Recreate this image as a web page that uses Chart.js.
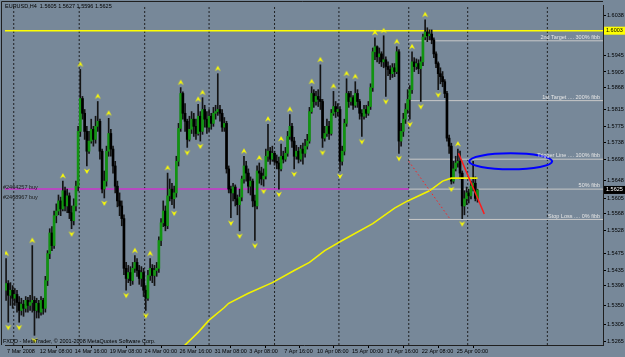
<!DOCTYPE html>
<html>
<head>
<meta charset="utf-8">
<script src="https://cdn.jsdelivr.net/npm/chart.js@4.4.1/dist/chart.umd.min.js"></script>
<style>
  html, body { margin: 0; padding: 0; background: #778899; }
  canvas { display: block; }
</style>
</head>
<body>
<canvas id="Grafico" width="625" height="357"></canvas>
<script>
// EURUSD H4, one value per bar (open = previous close)
const titulo = 'EURUSD,H4  1.5605 1.5627 1.5596 1.5625';
const firstOpen = 1.5387;
const closes = [
  1.5403, 1.5375, 1.5387, 1.5368, 1.5377, 1.5358, 1.5339, 1.5354, 1.5344, 1.5363,
  1.5351, 1.5358, 1.5363, 1.5339, 1.5356, 1.5335, 1.5363, 1.5344, 1.5410, 1.5474,
  1.5523, 1.5493, 1.5564, 1.5575, 1.5599, 1.5580, 1.5623, 1.5587, 1.5611, 1.5571,
  1.5552, 1.5587, 1.5634, 1.5764, 1.5842, 1.5807, 1.5764, 1.5717, 1.5741, 1.5769,
  1.5745, 1.5776, 1.5788, 1.5717, 1.5627, 1.5646, 1.5717, 1.5759, 1.5722, 1.5682,
  1.5634, 1.5599, 1.5587, 1.5557, 1.5439, 1.5415, 1.5429, 1.5410, 1.5439, 1.5453,
  1.5434, 1.5415, 1.5429, 1.5387, 1.5368, 1.5422, 1.5439, 1.5422, 1.5434, 1.5439,
  1.5505, 1.5547, 1.5575, 1.5540, 1.5611, 1.5627, 1.5604, 1.5618, 1.5693, 1.5771,
  1.5854, 1.5807, 1.5788, 1.5745, 1.5769, 1.5793, 1.5776, 1.5759, 1.5800, 1.5764,
  1.5816, 1.5793, 1.5774, 1.5800, 1.5783, 1.5807, 1.5811, 1.5816, 1.5807, 1.5774,
  1.5783, 1.5675, 1.5627, 1.5618, 1.5632, 1.5604, 1.5590, 1.5608, 1.5651, 1.5682,
  1.5665, 1.5634, 1.5646, 1.5599, 1.5587, 1.5670, 1.5665, 1.5651, 1.5658, 1.5705,
  1.5717, 1.5698, 1.5712, 1.5693, 1.5689, 1.5675, 1.5705, 1.5698, 1.5712, 1.5752,
  1.5776, 1.5741, 1.5705, 1.5717, 1.5698, 1.5722, 1.5712, 1.5729, 1.5741, 1.5811,
  1.5854, 1.5835, 1.5847, 1.5840, 1.5835, 1.5748, 1.5759, 1.5776, 1.5759, 1.5807,
  1.5823, 1.5811, 1.5816, 1.5693, 1.5717, 1.5783, 1.5854, 1.5835, 1.5844, 1.5826,
  1.5854, 1.5835, 1.5807, 1.5800, 1.5816, 1.5807, 1.5823, 1.5868, 1.5953, 1.5965,
  1.5941, 1.5948, 1.5929, 1.5934, 1.5918, 1.5911, 1.5901, 1.5915, 1.5906, 1.5953,
  1.5741, 1.5764, 1.5793, 1.5816, 1.5840, 1.5863, 1.5929, 1.5918, 1.5925, 1.5913,
  1.5929, 1.5988, 1.6000, 1.5991, 1.5995, 1.5981, 1.5948, 1.5925, 1.5901, 1.5894,
  1.5882, 1.5854, 1.5748, 1.5729, 1.5646, 1.5675, 1.5689, 1.5693, 1.5665, 1.5587,
  1.5604, 1.5618, 1.5611, 1.5634, 1.5641, 1.5605, 1.5625
];
const highs = [
  1.5462, 1.5410, 1.5405, 1.5398, 1.5391, 1.5387, 1.5372, 1.5368, 1.5363, 1.5372,
  1.5370, 1.5375, 1.5493, 1.5372, 1.5368, 1.5363, 1.5372, 1.5368, 1.5420, 1.5481,
  1.5533, 1.5538, 1.5575, 1.5592, 1.5613, 1.5608, 1.5646, 1.5632, 1.5627, 1.5618,
  1.5587, 1.5604, 1.5646, 1.5776, 1.5911, 1.5847, 1.5816, 1.5776, 1.5764, 1.5793,
  1.5776, 1.5800, 1.5835, 1.5793, 1.5722, 1.5670, 1.5729, 1.5795, 1.5769, 1.5729,
  1.5693, 1.5646, 1.5618, 1.5599, 1.5566, 1.5453, 1.5446, 1.5443, 1.5453, 1.5469,
  1.5462, 1.5446, 1.5443, 1.5439, 1.5398, 1.5434, 1.5462, 1.5448, 1.5446, 1.5453,
  1.5514, 1.5557, 1.5599, 1.5587, 1.5665, 1.5651, 1.5641, 1.5634, 1.5705, 1.5783,
  1.5868, 1.5858, 1.5830, 1.5793, 1.5800, 1.5811, 1.5807, 1.5793, 1.5828, 1.5811,
  1.5844, 1.5826, 1.5811, 1.5816, 1.5807, 1.5821, 1.5826, 1.5901, 1.5826, 1.5816,
  1.5797, 1.5788, 1.5682, 1.5634, 1.5641, 1.5637, 1.5613, 1.5627, 1.5658, 1.5705,
  1.5693, 1.5675, 1.5656, 1.5651, 1.5613, 1.5682, 1.5689, 1.5679, 1.5675, 1.5722,
  1.5781, 1.5726, 1.5729, 1.5717, 1.5708, 1.5703, 1.5734, 1.5717, 1.5726, 1.5764,
  1.5804, 1.5783, 1.5750, 1.5731, 1.5726, 1.5731, 1.5736, 1.5745, 1.5757, 1.5821,
  1.5870, 1.5863, 1.5859, 1.5863, 1.5922, 1.5840, 1.5776, 1.5793, 1.5788, 1.5816,
  1.5859, 1.5835, 1.5830, 1.5823, 1.5729, 1.5793, 1.5889, 1.5859, 1.5859, 1.5849,
  1.5882, 1.5863, 1.5840, 1.5816, 1.5826, 1.5826, 1.5835, 1.5877, 1.5962, 1.5986,
  1.5967, 1.5962, 1.5953, 1.5991, 1.5941, 1.5929, 1.5920, 1.5925, 1.5925, 1.5965,
  1.5958, 1.5783, 1.5807, 1.5830, 1.5863, 1.5873, 1.5953, 1.5939, 1.5936, 1.5934,
  1.5941, 1.5995, 1.6029, 1.6010, 1.6005, 1.6005, 1.5986, 1.5953, 1.5929, 1.5915,
  1.5906, 1.5887, 1.5859, 1.5755, 1.5736, 1.5693, 1.5705, 1.5722, 1.5717, 1.5670,
  1.5623, 1.5632, 1.5627, 1.5646, 1.5693, 1.5656, 1.5627
];
const lows = [
  1.5363, 1.5311, 1.5351, 1.5344, 1.5351, 1.5335, 1.5311, 1.5328, 1.5325, 1.5335,
  1.5335, 1.5339, 1.5335, 1.5280, 1.5321, 1.5321, 1.5328, 1.5330, 1.5335, 1.5398,
  1.5462, 1.5481, 1.5486, 1.5547, 1.5566, 1.5564, 1.5575, 1.5575, 1.5571, 1.5557,
  1.5533, 1.5542, 1.5575, 1.5623, 1.5752, 1.5793, 1.5745, 1.5682, 1.5712, 1.5736,
  1.5729, 1.5736, 1.5764, 1.5698, 1.5618, 1.5606, 1.5634, 1.5705, 1.5705, 1.5665,
  1.5618, 1.5585, 1.5564, 1.5540, 1.5424, 1.5387, 1.5405, 1.5398, 1.5401, 1.5429,
  1.5420, 1.5401, 1.5396, 1.5372, 1.5339, 1.5363, 1.5410, 1.5405, 1.5398, 1.5420,
  1.5429, 1.5493, 1.5538, 1.5528, 1.5533, 1.5599, 1.5590, 1.5582, 1.5608, 1.5682,
  1.5764, 1.5793, 1.5764, 1.5726, 1.5741, 1.5759, 1.5752, 1.5745, 1.5755, 1.5741,
  1.5757, 1.5774, 1.5759, 1.5764, 1.5769, 1.5776, 1.5793, 1.5802, 1.5788, 1.5764,
  1.5764, 1.5665, 1.5618, 1.5559, 1.5599, 1.5587, 1.5566, 1.5528, 1.5599, 1.5641,
  1.5646, 1.5618, 1.5613, 1.5585, 1.5505, 1.5580, 1.5641, 1.5637, 1.5634, 1.5651,
  1.5693, 1.5686, 1.5693, 1.5684, 1.5675, 1.5627, 1.5670, 1.5689, 1.5693, 1.5705,
  1.5745, 1.5726, 1.5675, 1.5698, 1.5689, 1.5693, 1.5686, 1.5703, 1.5722, 1.5736,
  1.5807, 1.5821, 1.5826, 1.5823, 1.5816, 1.5726, 1.5741, 1.5752, 1.5745, 1.5755,
  1.5802, 1.5797, 1.5800, 1.5670, 1.5684, 1.5708, 1.5776, 1.5821, 1.5826, 1.5816,
  1.5821, 1.5821, 1.5793, 1.5752, 1.5793, 1.5797, 1.5802, 1.5816, 1.5859, 1.5934,
  1.5929, 1.5925, 1.5918, 1.5915, 1.5847, 1.5896, 1.5887, 1.5892, 1.5894, 1.5901,
  1.5712, 1.5729, 1.5752, 1.5783, 1.5807, 1.5793, 1.5854, 1.5906, 1.5911, 1.5901,
  1.5835, 1.5920, 1.5981, 1.5977, 1.5981, 1.5972, 1.5939, 1.5915, 1.5863, 1.5877,
  1.5870, 1.5844, 1.5741, 1.5712, 1.5639, 1.5641, 1.5670, 1.5679, 1.5651, 1.5557,
  1.5566, 1.5590, 1.5594, 1.5604, 1.5623, 1.5599, 1.5596
];

// fractal arrows (bar numbers)
const fractalUp = [0, 12, 26, 34, 42, 47, 59, 66, 74, 80, 88, 90, 97, 109, 116, 120, 126, 130, 140, 144, 150, 156, 160, 169, 173, 179, 186, 192, 207];
const fractalDown = [1, 6, 13, 30, 37, 45, 55, 64, 77, 83, 89, 103, 107, 114, 118, 125, 132, 145, 153, 163, 174, 180, 185, 190, 198, 204, 209];

// moving average, read at a few bars
const maBars = [76, 82, 88, 93, 100, 102, 111, 122, 132, 139, 146, 154, 168, 178, 184, 194, 200, 204, 216];
const maValues = [1.5229, 1.5257, 1.5287, 1.5316, 1.5346, 1.5356, 1.5380, 1.5405, 1.5434, 1.5453, 1.5481, 1.5505, 1.5545, 1.5582, 1.5599, 1.5623, 1.5646, 1.5653, 1.5653];

const xTickBars = [0, 15, 31, 47, 63, 79, 95, 111, 127, 142, 158, 174, 190, 206];
const xTickLabels = ['7 Mar 2008', '12 Mar 08:00', '14 Mar 16:00', '19 Mar 08:00', '24 Mar 00:00', '26 Mar 16:00', '31 Mar 08:00', '3 Apr 08:00', '7 Apr 16:00', '10 Apr 08:00', '15 Apr 00:00', '17 Apr 16:00', '22 Apr 08:00', '25 Apr 00:00'];
const weekBars = [3.5, 33.5, 63.5, 93, 123, 152.5, 184.5, 211.5, 248];
const yTickLabels = ['1.6038', '1.5945', '1.5905', '1.5868', '1.5815', '1.5775', '1.5738', '1.5698', '1.5648', '1.5605', '1.5568', '1.5528', '1.5475', '1.5435', '1.5398', '1.5350', '1.5305', '1.5265'];

const totalBars = 274;
const yMin = 1.5257, yMax = 1.6064;

// objects on the chart
const yellowLine = 1.6003;
const orderLine = 1.5627;
const orderLabels = ['#2464257 buy', '#2468967 buy'];
const fibStart = 184.5;
const fibLevels = [1.5979, 1.5837, 1.5698, 1.5627, 1.5555];
const fibLabels = ['2nd Target .... 300% fibb', '1st Target .... 200% fibb', 'Trigger Line .... 100% fibb', '50% fibb', 'Stop Loss .... 0% fibb'];
const redLine = [[207.3, 1.5712], [219.1, 1.5568]];
const redDotted = [[184.5, 1.5693], [203, 1.5559]];
const ellipse = { bar: 231.2, price: 1.5693, halfBars: 19, halfPrice: 0.0019 };
const copyright = 'FXDD - MetaTrader, \u00a9 2001-2008 MetaQuotes Software Corp.';

const FONT = '"Liberation Sans", Arial, sans-serif';
Chart.defaults.font.family = FONT;
Chart.defaults.font.size = 5.5;
Chart.defaults.color = '#000';

let opens = closes.map((c, i) => i === 0 ? firstOpen : closes[i - 1]);
let wicks = closes.map((c, i) => ({ x: i, y: [Math.min(lows[i], opens[i], c), Math.max(highs[i], opens[i], c)] }));
let bodies = closes.map((c, i) => ({ x: i, y: [opens[i], c] }));
let bodyColors = closes.map((c, i) => c >= opens[i] ? '#119411' : '#000000');

function arrowIcon(up) {
  let c = document.createElement('canvas');
  c.width = 8; c.height = 22;
  let g = c.getContext('2d');
  g.fillStyle = '#ffff00';
  g.beginPath();
  if (up) { g.moveTo(1, 8.5); g.lineTo(4, 3); g.lineTo(7, 8.5); g.lineTo(4, 6.5); }
  else { g.moveTo(1, 13.5); g.lineTo(4, 19); g.lineTo(7, 13.5); g.lineTo(4, 15.5); }
  g.closePath();
  g.fill();
  return c;
}

function hline(v, from, to, color, width, order) {
  return {
    type: 'line', data: [{ x: from, y: v }, { x: to, y: v }],
    borderColor: color, borderWidth: width, pointRadius: 0, order: order
  };
}

let datasets = [];
// weekly dotted separators
weekBars.forEach(b => datasets.push({
  type: 'line', data: [{ x: b, y: yMin }, { x: b, y: yMax }],
  borderColor: 'rgba(22,22,22,0.9)', borderWidth: 1, borderDash: [2, 2], pointRadius: 0, order: 20
}));
datasets.push(hline(yellowLine, -0.5, totalBars - 0.5, '#ffff00', 1.5, 10));
datasets.push(hline(orderLine, -0.5, fibStart, '#cc33cc', 1.5, 10));
fibLevels.forEach(v => datasets.push(hline(v, fibStart, totalBars - 0.5, '#c8c8c8', 1, 10)));
datasets.push({
  type: 'bar', data: wicks, backgroundColor: '#141414', barThickness: 1, grouped: false, order: 3
});
datasets.push({
  type: 'bar', data: bodies, backgroundColor: bodyColors, barThickness: 2, minBarLength: 1, grouped: false, order: 2
});
datasets.push({
  type: 'line', data: maBars.map((b, i) => ({ x: b, y: maValues[i] })),
  borderColor: '#f2f200', borderWidth: 1.6, pointRadius: 0, order: 1
});
datasets.push({
  type: 'line', data: redDotted.map(p => ({ x: p[0], y: p[1] })),
  borderColor: '#ff2020', borderWidth: 1, borderDash: [1.5, 2.5], pointRadius: 0, order: 0
});
datasets.push({
  type: 'line', data: redLine.map(p => ({ x: p[0], y: p[1] })),
  borderColor: '#ff1a1a', borderWidth: 1.5, pointRadius: 0, order: 0
});
datasets.push({
  type: 'scatter', data: fractalUp.map(b => ({ x: b, y: highs[b] })),
  pointStyle: arrowIcon(true), pointRadius: 4, order: 0
});
datasets.push({
  type: 'scatter', data: fractalDown.map(b => ({ x: b, y: lows[b] })),
  pointStyle: arrowIcon(false), pointRadius: 4, order: 0
});

// ellipse, texts and price boxes
const decor = {
  id: 'decor',
  afterDatasetsDraw(chart) {
    const ctx = chart.ctx, a = chart.chartArea, x = chart.scales.x, y = chart.scales.y;
    ctx.save();

    ctx.strokeStyle = '#1f1f1f';
    ctx.lineWidth = 1;
    ctx.beginPath();
    ctx.moveTo(1.5, a.bottom); ctx.lineTo(1.5, 1.5); ctx.lineTo(a.right, 1.5);
    ctx.stroke();

    let cx = x.getPixelForValue(ellipse.bar), cy = y.getPixelForValue(ellipse.price);
    let rx = x.getPixelForValue(ellipse.bar + ellipse.halfBars) - cx;
    let ry = y.getPixelForValue(ellipse.price - ellipse.halfPrice) - cy;
    ctx.strokeStyle = '#0000ff';
    ctx.lineWidth = 2;
    ctx.beginPath();
    ctx.ellipse(cx, cy, rx, ry, 0, 0, Math.PI * 2);
    ctx.stroke();

    ctx.font = '5.5px ' + FONT;
    ctx.textBaseline = 'middle';
    ctx.fillStyle = '#000';
    ctx.textAlign = 'left';
    ctx.fillText(titulo, 5, 6);
    ctx.fillText(copyright, 3, a.bottom - 4);
    let oy = y.getPixelForValue(orderLine);
    ctx.fillStyle = '#1a1a1a';
    ctx.fillText(orderLabels[0], 3, oy - 2);
    ctx.fillText(orderLabels[1], 3, oy + 8);

    ctx.fillStyle = '#e6e6e6';
    ctx.textAlign = 'right';
    ctx.textBaseline = 'bottom';
    fibLevels.forEach((v, i) => ctx.fillText(fibLabels[i], a.right - 3, y.getPixelForValue(v) - 0.5));

    ctx.textAlign = 'left';
    ctx.textBaseline = 'middle';
    let yy = y.getPixelForValue(yellowLine);
    ctx.fillStyle = '#ffff00';
    ctx.fillRect(a.right + 1, yy - 4, 21, 8);
    ctx.fillStyle = '#000';
    ctx.fillText(yellowLine.toFixed(4), a.right + 3, yy);
    let last = closes[closes.length - 1];
    let ly = y.getPixelForValue(last);
    ctx.fillStyle = '#000';
    ctx.fillRect(a.right + 1, ly - 4, 21, 8);
    ctx.fillStyle = '#fff';
    ctx.fillText(last.toFixed(4), a.right + 3, ly);
    ctx.restore();
  }
};

let canva = document.getElementById('Grafico').getContext('2d');
var chart = new Chart(canva, {
  type: 'bar',
  data: { datasets: datasets },
  options: {
    responsive: false,
    animation: false,
    events: [],
    layout: { padding: { left: 2, top: 3, right: 0, bottom: 0 } },
    plugins: { legend: { display: false }, tooltip: { enabled: false } },
    scales: {
      x: {
        type: 'linear', position: 'bottom', min: -0.5, max: totalBars - 0.5, offset: false,
        afterBuildTicks: s => { s.ticks = xTickBars.map(v => ({ value: v })); },
        afterFit: s => { s.height = 12; },
        grid: { drawOnChartArea: false, drawTicks: true, tickLength: 3, color: '#000' },
        border: { display: true, color: '#1f1f1f' },
        ticks: {
          autoSkip: false, maxRotation: 0, minRotation: 0, align: 'start', padding: 0, labelOffset: 1,
          callback: v => xTickLabels[xTickBars.indexOf(v)]
        }
      },
      y: {
        type: 'linear', position: 'right', min: yMin, max: yMax,
        afterBuildTicks: s => { s.ticks = yTickLabels.map(t => ({ value: parseFloat(t) })); },
        afterFit: s => { s.width = 22; },
        grid: { drawOnChartArea: false, drawTicks: true, tickLength: 3, color: '#000' },
        border: { display: true, color: '#1f1f1f' },
        ticks: { padding: 1, callback: v => v.toFixed(4) }
      }
    }
  },
  plugins: [decor]
});
</script>
</body>
</html>
